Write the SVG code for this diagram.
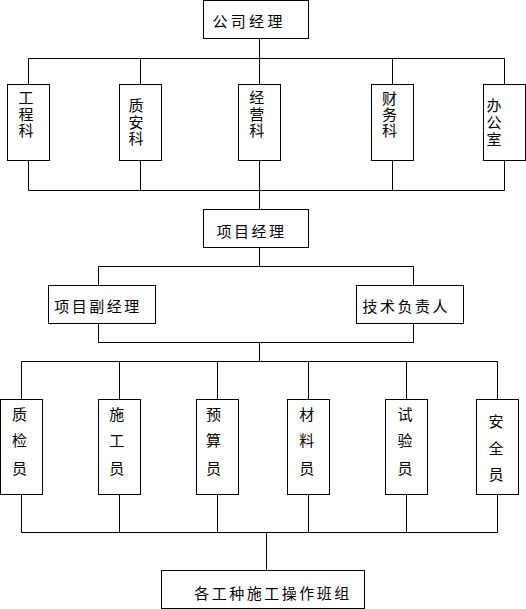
<svg xmlns="http://www.w3.org/2000/svg" width="526" height="609" viewBox="0 0 526 609">
<style>
.box{fill:#fff;stroke:#000;stroke-width:1}
.ln{fill:none;stroke:#000;stroke-width:1}
.t{font-family:"Noto Sans CJK SC","Noto Sans",sans-serif;font-size:15px;fill:#000}
.h{letter-spacing:2.5px}
</style>
<rect width="526" height="609" fill="#fff"/>
<g id="connectors">
<path class="ln" d="M259.5 38.5V58.5M28.5 58.5H504.5M28.5 58.5V84.5M140.5 58.5V84.5M259.5 58.5V84.5M392.5 58.5V84.5M504.5 58.5V84.5"/>
<path class="ln" d="M28.5 160.5V190.5M140.5 160.5V190.5M259.5 160.5V190.5M392.5 160.5V190.5M504.5 160.5V190.5M28.5 190.5H504.5M259.5 190.5V209.5"/>
<path class="ln" d="M259.5 247.5V266.5M98.5 266.5H413.5M98.5 266.5V285.5M413.5 266.5V285.5"/>
<path class="ln" d="M98.5 323.5V342.5M413.5 323.5V342.5M98.5 342.5H413.5M259.5 342.5V361.5"/>
<path class="ln" d="M21.5 361.5H497.5M21.5 361.5V399.5M119.5 361.5V399.5M217.5 361.5V399.5M308.5 361.5V399.5M406.5 361.5V399.5M497.5 361.5V399.5"/>
<path class="ln" d="M21.5 494.5V532.5M119.5 494.5V532.5M217.5 494.5V532.5M308.5 494.5V532.5M406.5 494.5V532.5M497.5 494.5V532.5M21.5 532.5H497.5M266.5 532.5V570.5"/>
</g>
<g id="company-manager">
<rect class="box" x="203.5" y="0.5" width="105" height="38"/>
<text class="t" x="212.5" y="27" style="letter-spacing:3.3px">公司经理</text>
</g>
<g id="engineering">
<rect class="box" x="7.5" y="84.5" width="42" height="76"/>
<text class="t"><tspan x="18.6" y="103">工</tspan><tspan x="18.6" y="119.5">程</tspan><tspan x="18.6" y="136">科</tspan></text>
</g>
<g id="quality-safety">
<rect class="box" x="119.5" y="84.5" width="42" height="76"/>
<text class="t"><tspan x="128.6" y="111">质</tspan><tspan x="128.6" y="127.5">安</tspan><tspan x="128.6" y="144">科</tspan></text>
</g>
<g id="operations">
<rect class="box" x="238.5" y="84.5" width="42" height="76"/>
<text class="t"><tspan x="249.3" y="103">经</tspan><tspan x="249.3" y="119.5">营</tspan><tspan x="249.3" y="136">科</tspan></text>
</g>
<g id="finance">
<rect class="box" x="371.5" y="84.5" width="42" height="76"/>
<text class="t"><tspan x="382" y="104">财</tspan><tspan x="382" y="120">务</tspan><tspan x="382" y="136">科</tspan></text>
</g>
<g id="office">
<rect class="box" x="483.5" y="84.5" width="42" height="76"/>
<text class="t"><tspan x="486.6" y="111">办</tspan><tspan x="486.6" y="127.5">公</tspan><tspan x="486.6" y="145">室</tspan></text>
</g>
<g id="project-manager">
<rect class="box" x="203.5" y="209.5" width="105" height="38"/>
<text class="t h" x="216.5" y="237">项目经理</text>
</g>
<g id="deputy-manager">
<rect class="box" x="48.5" y="285.5" width="107" height="38"/>
<text class="t h" x="54.3" y="312">项目副经理</text>
</g>
<g id="technical-lead">
<rect class="box" x="356.5" y="285.5" width="107" height="38"/>
<text class="t h" x="362.5" y="312">技术负责人</text>
</g>
<g id="quality-inspector">
<rect class="box" x="0.5" y="399.5" width="42" height="95"/>
<text class="t"><tspan x="12" y="419.5">质</tspan><tspan x="12" y="446">检</tspan><tspan x="12" y="473.5">员</tspan></text>
</g>
<g id="construction-worker">
<rect class="box" x="98.5" y="399.5" width="42" height="95"/>
<text class="t"><tspan x="109.3" y="419.5">施</tspan><tspan x="109.3" y="446">工</tspan><tspan x="109.3" y="473.5">员</tspan></text>
</g>
<g id="budget-officer">
<rect class="box" x="196.5" y="399.5" width="42" height="95"/>
<text class="t"><tspan x="206" y="419.5">预</tspan><tspan x="206" y="446">算</tspan><tspan x="206" y="473.5">员</tspan></text>
</g>
<g id="materials-officer">
<rect class="box" x="287.5" y="399.5" width="42" height="95"/>
<text class="t"><tspan x="299.3" y="419.5">材</tspan><tspan x="299.3" y="446">料</tspan><tspan x="299.3" y="473.5">员</tspan></text>
</g>
<g id="test-officer">
<rect class="box" x="385.5" y="399.5" width="42" height="95"/>
<text class="t"><tspan x="397.6" y="419.5">试</tspan><tspan x="397.6" y="446">验</tspan><tspan x="397.6" y="473.5">员</tspan></text>
</g>
<g id="safety-officer">
<rect class="box" x="476.5" y="399.5" width="42" height="95"/>
<text class="t"><tspan x="488.6" y="427">安</tspan><tspan x="488.6" y="453.5">全</tspan><tspan x="488.6" y="479.5">员</tspan></text>
</g>
<g id="work-teams">
<rect class="box" x="161.5" y="570.5" width="203" height="38"/>
<text class="t h" x="194.3" y="599">各工种施工操作班组</text>
</g>
</svg>
